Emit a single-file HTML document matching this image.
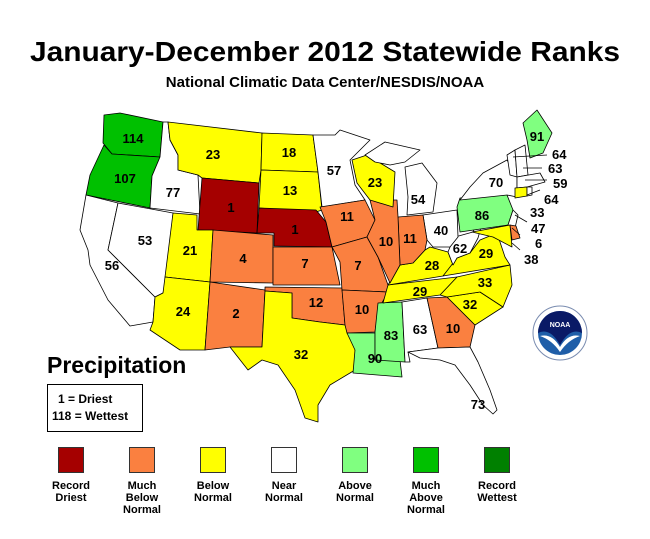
<!DOCTYPE html>
<html><head><style>
body{margin:0;background:#fff;}
svg text{font-family:"Liberation Sans",Arial,sans-serif;font-weight:bold;}
</style></head><body>
<svg width="650" height="534" viewBox="0 0 650 534" xmlns="http://www.w3.org/2000/svg">
<text x="325" y="61" font-size="28" text-anchor="middle" textLength="590" lengthAdjust="spacingAndGlyphs">January-December 2012 Statewide Ranks</text>
<text x="325" y="87" font-size="15" text-anchor="middle">National Climatic Data Center/NESDIS/NOAA</text>
<g stroke="#000" stroke-width="0.8" stroke-linejoin="round">
<polygon fill="#00c000" points="120,113 163,122 160,157 112,154 103,143 104,115"/>
<polygon fill="#00c000" points="104,145 112,154 160,157 152,176 150,208 86,195 90,175"/>
<polygon fill="#fff" points="163,122 168,122 170,140 178,155 178,170 198,175 200,214 150,208 152,176 160,157"/>
<polygon fill="#ffff00" points="168,122 262,133 261,170 259,183 202,178 198,175 178,170 178,155 170,140"/>
<polygon fill="#a50000" points="202,178 259,183 257,233 198,230"/>
<polygon fill="#ffff00" points="262,133 313,135 318,172 261,170"/>
<polygon fill="#ffff00" points="261,170 318,172 322,210 316,212 259,208"/>
<polygon fill="#a50000" points="259,208 316,210 326,222 332,247 274,246 274,233 257,233"/>
<polygon fill="#fff" points="86,195 118,203 108,250 155,297 153,322 130,326 108,300 90,265 88,250 80,230"/>
<polygon fill="#fff" points="118,203 173,213 167,280 163,293 155,297 108,250"/>
<polygon fill="#ffff00" points="173,213 197,215 197,230 213,230 210,282 165,277"/>
<polygon fill="#fa8040" points="213,230 273,235 273,283 210,282"/>
<polygon fill="#ffff00" points="165,277 210,282 205,350 180,350 150,330 153,322 155,297 163,293"/>
<polygon fill="#fa8040" points="210,282 265,290 262,347 230,347 205,350"/>
<polygon fill="#fa8040" points="273,247 332,247 340,285 273,285"/>
<polygon fill="#fa8040" points="265,287 342,288 345,325 320,322 292,318 292,293 265,291"/>
<polygon fill="#ffff00" points="265,291 292,293 292,318 320,322 345,325 355,333 355,370 330,385 318,405 318,422 305,418 295,390 278,365 262,360 248,370 230,347 262,347"/>
<polygon fill="#fff" points="313,135 335,135 340,130 370,140 350,160 355,185 365,200 322,207 318,172"/>
<polygon fill="#fa8040" points="320,207 365,200 375,220 367,237 332,247 326,222"/>
<polygon fill="#fa8040" points="332,247 367,237 378,257 388,285 388,292 342,290 340,262"/>
<polygon fill="#fa8040" points="342,290 388,292 378,310 375,332 347,333 345,325"/>
<polygon fill="#80ff80" points="347,333 375,333 375,360 400,360 402,377 353,373 355,350"/>
<polygon fill="#80ff80" points="378,303 402,302 405,362 375,360 375,332"/>
<polygon fill="#fff" points="402,302 427,298 438,348 408,352 410,362 405,362"/>
<polygon fill="#fa8040" points="427,298 447,297 475,325 470,347 438,348"/>
<polygon fill="#fff" points="408,352 438,348 470,347 478,362 490,390 497,410 493,414 483,405 470,385 455,365 440,360 420,358"/>
<polygon fill="#ffff00" points="447,297 480,292 503,307 475,325"/>
<polygon fill="#ffff00" points="440,295 457,277 510,265 512,285 503,307 480,292 447,297"/>
<polygon fill="#ffff00" points="388,285 440,279 457,277 440,295 383,303"/>
<polygon fill="#ffff00" points="388,285 400,265 413,263 425,250 430,247 448,252 453,265 443,276"/>
<polygon fill="#ffff00" points="443,276 457,258 470,253 480,240 497,233 505,257 510,265"/>
<polygon fill="#fff" points="450,247 455,237 473,232 477,223 483,220 478,238 470,253 457,258 453,265 448,252"/>
<polygon fill="#fff" points="423,215 457,210 458,237 450,247 433,247 427,240"/>
<polygon fill="#fa8040" points="398,217 423,215 427,240 425,250 413,263 400,265"/>
<polygon fill="#fa8040" points="370,200 397,200 398,217 400,265 390,283 378,257 367,237 375,220"/>
<polygon fill="#ffff00" points="352,160 367,155 395,172 393,207 370,200 357,183"/>
<polygon fill="#fff" points="405,167 422,163 437,183 433,212 407,215 408,197"/>
<polygon fill="#fff" points="365,155 385,142 420,150 405,162 390,165 375,162"/>
<polygon fill="#80ff80" points="457,207 460,198 507,195 513,210 508,225 460,232"/>
<polygon fill="#fff" points="460,200 470,187 483,173 507,160 517,177 517,197 507,195"/>
<polygon fill="#fff" points="513,210 518,215 515,228 508,225"/>
<polygon fill="#ffff00" points="472,232 510,225 512,247 493,237"/>
<polygon fill="#fa8040" points="510,225 516,226 520,238 512,240"/>
<polygon fill="#fff" points="507,155 515,150 517,177 510,175"/>
<polygon fill="#fff" points="515,150 525,145 528,175 517,177"/>
<polygon fill="#80ff80" points="523,123 537,110 552,133 543,153 530,158 527,140"/>
<polygon fill="#fff" points="517,177 540,173 545,182 527,187 517,188"/>
<polygon fill="#ffff00" points="515,188 527,187 527,196 515,198"/>
<polygon fill="#fff" points="527,187 532,187 532,195 527,196"/>
</g>
<g stroke="#000" stroke-width="0.8">
<line x1="513" y1="157" x2="547" y2="155"/><line x1="523" y1="168" x2="542" y2="168"/>
<line x1="525" y1="180" x2="547" y2="180"/><line x1="527" y1="195" x2="540" y2="190"/>
<line x1="515" y1="215" x2="527" y2="222"/><line x1="512" y1="228" x2="520" y2="235"/>
<line x1="512" y1="243" x2="520" y2="250"/>
</g>
<g font-size="13" text-anchor="middle">
<text x="133" y="143">114</text><text x="125" y="183">107</text><text x="173" y="197">77</text>
<text x="213" y="159">23</text><text x="289" y="157">18</text><text x="290" y="195">13</text>
<text x="231" y="212">1</text><text x="295" y="234">1</text><text x="334" y="175">57</text>
<text x="112" y="270">56</text><text x="145" y="245">53</text><text x="190" y="255">21</text>
<text x="243" y="263">4</text><text x="305" y="268">7</text><text x="183" y="316">24</text>
<text x="236" y="318">2</text><text x="316" y="307">12</text><text x="301" y="359">32</text>
<text x="347" y="221">11</text><text x="386" y="246">10</text><text x="410" y="243">11</text>
<text x="358" y="270">7</text><text x="362" y="314">10</text><text x="375" y="363">90</text>
<text x="391" y="340">83</text><text x="420" y="334">63</text><text x="453" y="333">10</text>
<text x="478" y="409">73</text><text x="470" y="309">32</text><text x="485" y="287">33</text>
<text x="420" y="296">29</text><text x="432" y="270">28</text><text x="486" y="258">29</text>
<text x="460" y="253">62</text><text x="441" y="235">40</text><text x="418" y="204">54</text>
<text x="375" y="187">23</text><text x="482" y="220">86</text><text x="496" y="187">70</text>
<text x="537" y="141">91</text>
</g>
<g font-size="13" text-anchor="start">
<text x="552" y="159">64</text><text x="548" y="173">63</text><text x="553" y="188">59</text>
<text x="544" y="204">64</text><text x="530" y="217">33</text><text x="531" y="233">47</text>
<text x="535" y="248">6</text><text x="524" y="264">38</text>
</g>
<g>
<circle cx="560" cy="333" r="27" fill="#fff" stroke="#7a8cb0" stroke-width="1"/>
<circle cx="560" cy="333" r="22" fill="#1f5ea8"/>
<path d="M538,333 A22,22 0 0 1 582,333 Q570,327 560,345 Q550,327 538,333Z" fill="#0a1a66"/>
<path d="M540,336 Q552,333 560,347 Q568,333 580,336 Q568,340 560,352 Q552,340 540,336Z" fill="#fff"/>
<text x="560" y="327" font-size="7" fill="#fff" text-anchor="middle">NOAA</text>
</g>
<text x="47" y="373" font-size="23">Precipitation</text>
<rect x="47.5" y="384.5" width="95" height="47" fill="#fff" stroke="#000"/>
<text x="58" y="403" font-size="12">1 = Driest</text>
<text x="52" y="420" font-size="12">118 = Wettest</text>
<g stroke="#333" stroke-width="1">
<rect x="58.5" y="447.5" width="25" height="25" fill="#a50000"/>
<rect x="129.5" y="447.5" width="25" height="25" fill="#fa8040"/>
<rect x="200.5" y="447.5" width="25" height="25" fill="#ffff00"/>
<rect x="271.5" y="447.5" width="25" height="25" fill="#fff"/>
<rect x="342.5" y="447.5" width="25" height="25" fill="#80ff80"/>
<rect x="413.5" y="447.5" width="25" height="25" fill="#00c000"/>
<rect x="484.5" y="447.5" width="25" height="25" fill="#008000"/>
</g>
<g font-size="11" text-anchor="middle">
<text x="71" y="489">Record</text><text x="71" y="501">Driest</text>
<text x="142" y="489">Much</text><text x="142" y="501">Below</text><text x="142" y="513">Normal</text>
<text x="213" y="489">Below</text><text x="213" y="501">Normal</text>
<text x="284" y="489">Near</text><text x="284" y="501">Normal</text>
<text x="355" y="489">Above</text><text x="355" y="501">Normal</text>
<text x="426" y="489">Much</text><text x="426" y="501">Above</text><text x="426" y="513">Normal</text>
<text x="497" y="489">Record</text><text x="497" y="501">Wettest</text>
</g>
</svg>
</body></html>
